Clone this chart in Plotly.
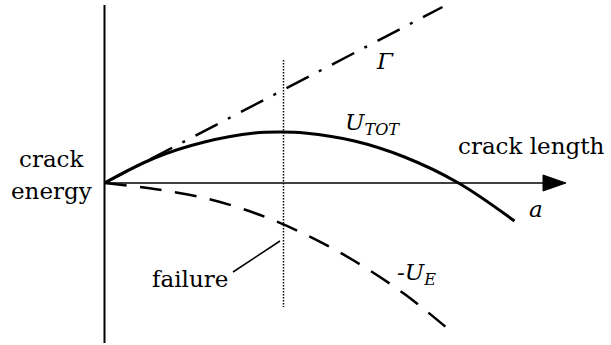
import plotly.graph_objects as go

# Crack length samples (a) and the three energy terms read along them
a_gamma = [0.0, 3.38]
gamma = [0.0, 1.76]

a_tot = [0.0, 0.5, 1.0, 1.5, 1.77, 2.0, 2.5, 3.0, 3.54, 4.10]
u_tot = [0.0, 0.25, 0.41, 0.50, 0.51, 0.50, 0.42, 0.26, 0.0, -0.38]

a_el = [0.0, 0.5, 1.0, 1.5, 2.0, 2.5, 3.0, 3.46]
minus_u_el = [0.0, -0.06, -0.15, -0.30, -0.51, -0.78, -1.11, -1.48]

a_fail = 1.79  # crack length at the maximum of U_TOT

SERIF = "DejaVu Serif"
FS = 23

fig = go.Figure()

fig.add_trace(go.Scatter(
    x=a_gamma, y=gamma, mode="lines",
    line=dict(color="black", width=2.5, dash="25px,11.5px,3px,11.8px"),
    hoverinfo="skip"))
fig.add_trace(go.Scatter(
    x=a_tot, y=u_tot, mode="lines", line_shape="spline",
    line=dict(color="black", width=3),
    hoverinfo="skip"))
fig.add_trace(go.Scatter(
    x=a_el, y=minus_u_el, mode="lines", line_shape="spline",
    line=dict(color="black", width=2.5, dash="22px,13.5px"),
    hoverinfo="skip"))

shapes = [
    # energy axis
    dict(type="line", x0=0, x1=0, y0=1.78, y1=-1.60,
         line=dict(color="black", width=2)),
    # crack-length axis with arrow head
    dict(type="line", x0=0, x1=4.40, y0=0, y1=0,
         line=dict(color="black", width=1.5)),
    dict(type="path", path="M 4.615 0 L 4.385 0.08 L 4.385 -0.08 Z",
         fillcolor="black", line=dict(color="black", width=1)),
    # failure marker
    dict(type="line", x0=a_fail, x1=a_fail, y0=1.23, y1=-1.24,
         line=dict(color="black", width=1.5, dash="1.5px,1.5px")),
    dict(type="line", x0=1.755, x1=1.285, y0=-0.58, y1=-0.89,
         line=dict(color="black", width=1.5)),
]

def label(x, y, text, xanchor="center", yanchor="middle"):
    return dict(x=x, y=y, text=text, showarrow=False, xanchor=xanchor,
                yanchor=yanchor, font=dict(family=SERIF, size=FS, color="black"))

annotations = [
    label(-0.53, 0.24, "crack"),
    label(-0.53, -0.08, "energy"),
    label(5.01, 0.37, "crack length", xanchor="right"),
    label(4.31, -0.26, "<i>a</i>"),
    label(2.80, 1.22, "<i>Γ</i>"),
    label(2.38, 0.59, "<i>U</i><sub><i>TOT</i></sub>", xanchor="left"),
    label(2.90, -0.91, "-<i>U</i><sub><i>E</i></sub>", xanchor="left"),
    label(1.25, -0.96, "failure", xanchor="right"),
]

fig.update_layout(
    width=611, height=345,
    margin=dict(l=0, r=0, t=0, b=0),
    paper_bgcolor="white", plot_bgcolor="white",
    showlegend=False,
    xaxis=dict(range=[-1.045, 5.065], visible=False, fixedrange=True),
    yaxis=dict(range=[-1.62, 1.83], visible=False, fixedrange=True),
    shapes=shapes, annotations=annotations,
)

fig.write_html("out.html", config=dict(displayModeBar=False))
